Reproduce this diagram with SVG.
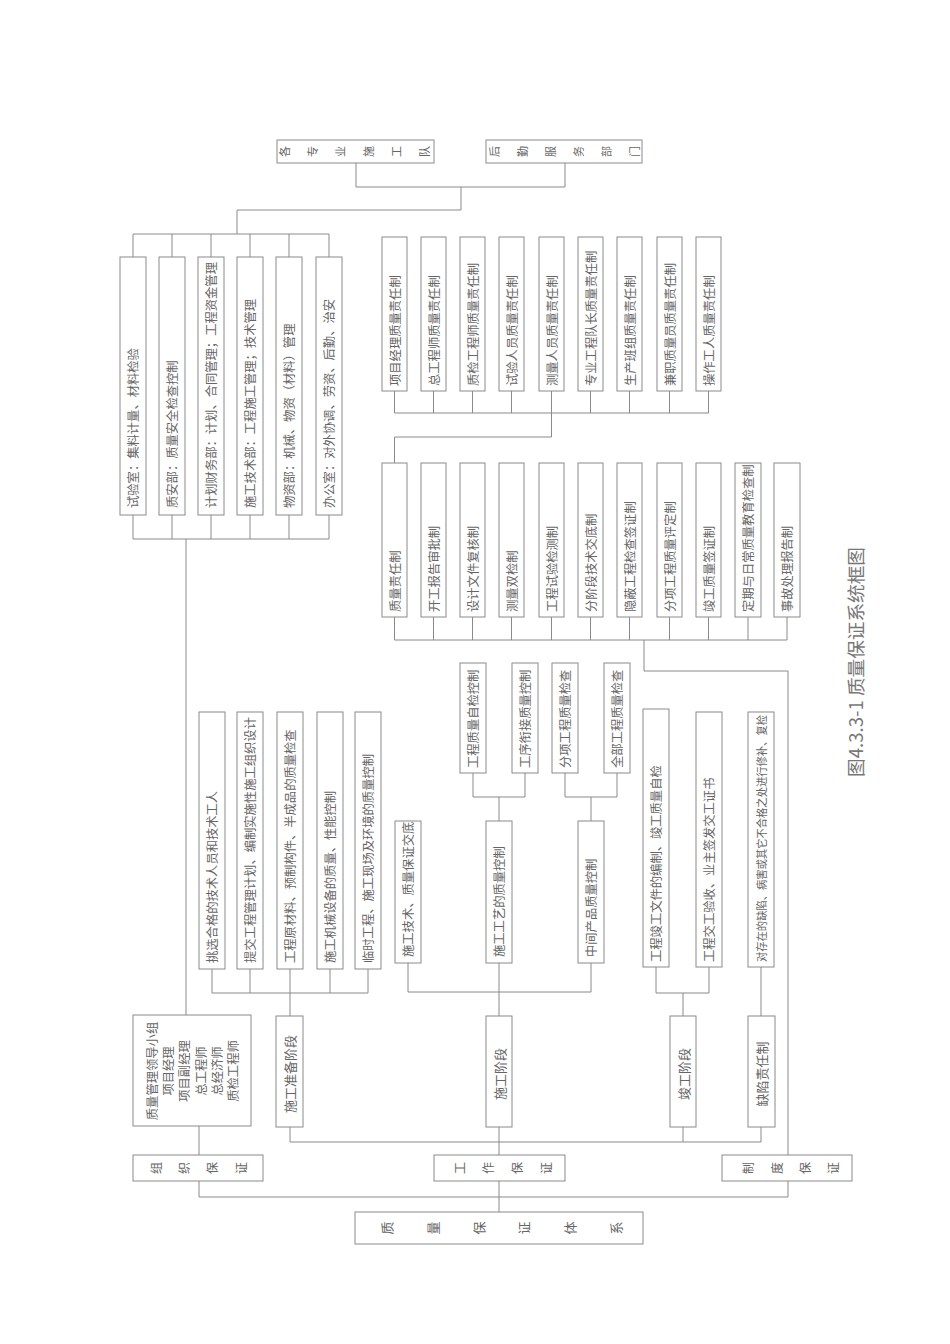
<svg xmlns="http://www.w3.org/2000/svg" width="950" height="1344" viewBox="0 0 950 1344">
<style>
rect.b{fill:#fff;stroke:#8a8a8a;stroke-width:1}
.c path{fill:none;stroke:#8a8a8a;stroke-width:1}
text{font-family:"Noto Sans CJK SC","Noto Sans",sans-serif;fill:#656565;dominant-baseline:central}
text.v{font-size:12.3px;text-anchor:start}
text.m{font-size:13px;text-anchor:middle}
text.s{font-size:11px;text-anchor:middle}
text.s2{font-size:12px;text-anchor:middle}
text.s3{font-size:13px;text-anchor:middle}
text.cap{font-size:18.5px;text-anchor:start;fill:#777}
</style>
<rect width="950" height="1344" fill="#fff"/>

<g class="c" id="connectors">
<path d="M356,163V187H565V163M461,187V210H237V234M133,234H329"/>
<path d="M133,234V257M172,234V257M211,234V257M250,234V257M289,234V257M329,234V257"/>
<path d="M133,515V539M172,515V539M211,515V539M250,515V539M289,515V539M329,515V539M133,539H329M186,539V1015"/>
<path d="M394.5,391V413M433.5,391V413M472.5,391V413M511.5,391V413M551.5,391V413M590.5,391V413M629.5,391V413M669.5,391V413M708.5,391V413M394.5,413H708.5M551.5,413V437H394.5V463"/>
<path d="M394.5,617V640M433.5,617V640M472.5,617V640M511.5,617V640M551.5,617V640M590.5,617V640M629.5,617V640M669.5,617V640M708.5,617V640M748,617V640M787,617V640M394.5,640H787M644,640V671H788V1155"/>
<path d="M212,969V993M250,969V993M290,969V993M330,969V993M368,969V993M212,993H368M290,993V1016"/>
<path d="M473,773V797H525V773M499,797V821M565,773V797H617V773M591,797V821"/>
<path d="M408,963V992M499,963V992M591,963V992M408,992H591M499,992V1016"/>
<path d="M656,967V993H709V967M683,993V1016M761,967V1016"/>
<path d="M290,1127V1142H761V1127M499,1127V1142M683,1127V1142M499,1142V1155"/>
<path d="M199,1126V1155M199,1181V1197H788V1181M499,1181V1212"/>
</g>

<g id="n-gezhuanye">
<rect class="b" x="277" y="140" width="157" height="23"/>
<text class="s" transform="translate(284,151.5) rotate(-90)">各</text>
<text class="s" transform="translate(312,151.5) rotate(-90)">专</text>
<text class="s" transform="translate(340,151.5) rotate(-90)">业</text>
<text class="s" transform="translate(368,151.5) rotate(-90)">施</text>
<text class="s" transform="translate(396,151.5) rotate(-90)">工</text>
<text class="s" transform="translate(424,151.5) rotate(-90)">队</text>
</g>
<g id="n-houqin">
<rect class="b" x="486" y="140" width="156" height="23"/>
<text class="s" transform="translate(494,151.5) rotate(-90)">后</text>
<text class="s" transform="translate(522,151.5) rotate(-90)">勤</text>
<text class="s" transform="translate(550,151.5) rotate(-90)">服</text>
<text class="s" transform="translate(578,151.5) rotate(-90)">务</text>
<text class="s" transform="translate(606,151.5) rotate(-90)">部</text>
<text class="s" transform="translate(634,151.5) rotate(-90)">门</text>
</g>

<g id="n-dept1"><rect class="b" x="120" y="257" width="26" height="258"/><text class="v" transform="translate(133,508) rotate(-90)">试验室：集料计量、材料检验</text></g>
<g id="n-dept2"><rect class="b" x="159" y="257" width="26" height="258"/><text class="v" transform="translate(172,508) rotate(-90)">质安部：质量安全检查控制</text></g>
<g id="n-dept3"><rect class="b" x="198" y="257" width="26" height="258"/><text class="v" transform="translate(211,508) rotate(-90)">计划财务部：计划、合同管理；工程资金管理</text></g>
<g id="n-dept4"><rect class="b" x="237" y="257" width="26" height="258"/><text class="v" transform="translate(250,508) rotate(-90)">施工技术部：工程施工管理；技术管理</text></g>
<g id="n-dept5"><rect class="b" x="276" y="257" width="26" height="258"/><text class="v" transform="translate(289,508) rotate(-90)">物资部：机械、物资（材料）管理</text></g>
<g id="n-dept6"><rect class="b" x="316" y="257" width="26" height="258"/><text class="v" transform="translate(329,508) rotate(-90)">办公室：对外协调、劳资、后勤、治安</text></g>

<g id="n-resp1"><rect class="b" x="382" y="237" width="25" height="154"/><text class="v" transform="translate(394.5,386) rotate(-90)">项目经理质量责任制</text></g>
<g id="n-resp2"><rect class="b" x="421" y="237" width="25" height="154"/><text class="v" transform="translate(433.5,386) rotate(-90)">总工程师质量责任制</text></g>
<g id="n-resp3"><rect class="b" x="460" y="237" width="25" height="154"/><text class="v" transform="translate(472.5,386) rotate(-90)">质检工程师质量责任制</text></g>
<g id="n-resp4"><rect class="b" x="499" y="237" width="25" height="154"/><text class="v" transform="translate(511.5,386) rotate(-90)">试验人员质量责任制</text></g>
<g id="n-resp5"><rect class="b" x="539" y="237" width="25" height="154"/><text class="v" transform="translate(551.5,386) rotate(-90)">测量人员质量责任制</text></g>
<g id="n-resp6"><rect class="b" x="578" y="237" width="25" height="154"/><text class="v" transform="translate(590.5,386) rotate(-90)">专业工程队长质量责任制</text></g>
<g id="n-resp7"><rect class="b" x="617" y="237" width="25" height="154"/><text class="v" transform="translate(629.5,386) rotate(-90)">生产班组质量责任制</text></g>
<g id="n-resp8"><rect class="b" x="657" y="237" width="25" height="154"/><text class="v" transform="translate(669.5,386) rotate(-90)">兼职质量员质量责任制</text></g>
<g id="n-resp9"><rect class="b" x="696" y="237" width="25" height="154"/><text class="v" transform="translate(708.5,386) rotate(-90)">操作工人质量责任制</text></g>

<g id="n-rule1"><rect class="b" x="382" y="463" width="25" height="154"/><text class="v" transform="translate(394.5,612) rotate(-90)">质量责任制</text></g>
<g id="n-rule2"><rect class="b" x="421" y="463" width="25" height="154"/><text class="v" transform="translate(433.5,612) rotate(-90)">开工报告审批制</text></g>
<g id="n-rule3"><rect class="b" x="460" y="463" width="25" height="154"/><text class="v" transform="translate(472.5,612) rotate(-90)">设计文件复核制</text></g>
<g id="n-rule4"><rect class="b" x="499" y="463" width="25" height="154"/><text class="v" transform="translate(511.5,612) rotate(-90)">测量双检制</text></g>
<g id="n-rule5"><rect class="b" x="539" y="463" width="25" height="154"/><text class="v" transform="translate(551.5,612) rotate(-90)">工程试验检测制</text></g>
<g id="n-rule6"><rect class="b" x="578" y="463" width="25" height="154"/><text class="v" transform="translate(590.5,612) rotate(-90)">分阶段技术交底制</text></g>
<g id="n-rule7"><rect class="b" x="617" y="463" width="25" height="154"/><text class="v" transform="translate(629.5,612) rotate(-90)">隐蔽工程检查签证制</text></g>
<g id="n-rule8"><rect class="b" x="657" y="463" width="25" height="154"/><text class="v" transform="translate(669.5,612) rotate(-90)">分项工程质量评定制</text></g>
<g id="n-rule9"><rect class="b" x="696" y="463" width="25" height="154"/><text class="v" transform="translate(708.5,612) rotate(-90)">竣工质量签证制</text></g>
<g id="n-rule10"><rect class="b" x="735" y="463" width="26" height="154"/><text class="v" transform="translate(748,612) rotate(-90)">定期与日常质量教育检查制</text></g>
<g id="n-rule11"><rect class="b" x="774" y="463" width="26" height="154"/><text class="v" transform="translate(787,612) rotate(-90)">事故处理报告制</text></g>

<g id="n-prep1"><rect class="b" x="199" y="712" width="26" height="257"/><text class="v" transform="translate(212,963) rotate(-90)">挑选合格的技术人员和技术工人</text></g>
<g id="n-prep2"><rect class="b" x="237" y="712" width="26" height="257"/><text class="v" transform="translate(250,963) rotate(-90)">提交工程管理计划、编制实施性施工组织设计</text></g>
<g id="n-prep3"><rect class="b" x="277" y="712" width="26" height="257"/><text class="v" transform="translate(290,963) rotate(-90)">工程原材料、预制构件、半成品的质量检查</text></g>
<g id="n-prep4"><rect class="b" x="317" y="712" width="26" height="257"/><text class="v" transform="translate(330,963) rotate(-90)">施工机械设备的质量、性能控制</text></g>
<g id="n-prep5"><rect class="b" x="355" y="712" width="26" height="257"/><text class="v" transform="translate(368,963) rotate(-90)">临时工程、施工现场及环境的质量控制</text></g>

<g id="n-jishu"><rect class="b" x="395" y="821" width="26" height="142"/><text class="v" transform="translate(408,957) rotate(-90)">施工技术、质量保证交底</text></g>
<g id="n-gongyi"><rect class="b" x="486" y="821" width="26" height="142"/><text class="v" transform="translate(499,957) rotate(-90)">施工工艺的质量控制</text></g>
<g id="n-zhongjian"><rect class="b" x="578" y="821" width="26" height="142"/><text class="v" transform="translate(591,957) rotate(-90)">中间产品质量控制</text></g>

<g id="n-zijian"><rect class="b" x="460" y="663" width="26" height="110"/><text class="v" transform="translate(473,768) rotate(-90)">工程质量自检控制</text></g>
<g id="n-xianjie"><rect class="b" x="512" y="663" width="26" height="110"/><text class="v" transform="translate(525,768) rotate(-90)">工序衔接质量控制</text></g>
<g id="n-fenxiang"><rect class="b" x="552" y="663" width="26" height="110"/><text class="v" transform="translate(565,768) rotate(-90)">分项工程质量检查</text></g>
<g id="n-quanbu"><rect class="b" x="604" y="663" width="26" height="110"/><text class="v" transform="translate(617,768) rotate(-90)">全部工程质量检查</text></g>

<g id="n-jungong1"><rect class="b" x="643" y="709" width="26" height="258"/><text class="v" transform="translate(656,962) rotate(-90)">工程竣工文件的编制、竣工质量自检</text></g>
<g id="n-jungong2"><rect class="b" x="696" y="712" width="26" height="255"/><text class="v" transform="translate(709,962) rotate(-90)">工程交工验收、业主签发交工证书</text></g>
<g id="n-quexian1"><rect class="b" x="748" y="712" width="26" height="255"/><text class="v" style="font-size:11px" textLength="247" lengthAdjust="spacingAndGlyphs" transform="translate(761,962) rotate(-90)">对存在的缺陷、病害或其它不合格之处进行修补、复检</text></g>

<g id="n-stage1"><rect class="b" x="276" y="1016" width="27" height="111"/><text class="m" transform="translate(289.5,1074) rotate(-90)">施工准备阶段</text></g>
<g id="n-stage2"><rect class="b" x="486" y="1016" width="26" height="111"/><text class="m" transform="translate(499,1074) rotate(-90)">施工阶段</text></g>
<g id="n-stage3"><rect class="b" x="670" y="1016" width="26" height="111"/><text class="m" transform="translate(683,1074) rotate(-90)">竣工阶段</text></g>
<g id="n-stage4"><rect class="b" x="748" y="1016" width="27" height="111"/><text class="m" transform="translate(761.5,1074) rotate(-90)">缺陷责任制</text></g>

<g id="n-lingdao">
<rect class="b" x="133" y="1015" width="118" height="111"/>
<text class="m" style="font-size:12.3px" transform="translate(152,1071) rotate(-90)">质量管理领导小组</text>
<text class="m" style="font-size:12.3px" transform="translate(168,1071) rotate(-90)">项目经理</text>
<text class="m" style="font-size:12.3px" transform="translate(184,1071) rotate(-90)">项目副经理</text>
<text class="m" style="font-size:12.3px" transform="translate(201,1071) rotate(-90)">总工程师</text>
<text class="m" style="font-size:12.3px" transform="translate(217,1071) rotate(-90)">总经济师</text>
<text class="m" style="font-size:12.3px" transform="translate(233,1071) rotate(-90)">质检工程师</text>
</g>

<g id="n-zuzhi">
<rect class="b" x="133" y="1155" width="130" height="26"/>
<text class="s2" transform="translate(155,1168) rotate(-90)">组</text>
<text class="s2" transform="translate(183,1168) rotate(-90)">织</text>
<text class="s2" transform="translate(211,1168) rotate(-90)">保</text>
<text class="s2" transform="translate(240,1168) rotate(-90)">证</text>
</g>
<g id="n-gongzuo">
<rect class="b" x="434" y="1155" width="131" height="26"/>
<text class="s2" transform="translate(459,1168) rotate(-90)">工</text>
<text class="s2" transform="translate(487,1168) rotate(-90)">作</text>
<text class="s2" transform="translate(516,1168) rotate(-90)">保</text>
<text class="s2" transform="translate(545,1168) rotate(-90)">证</text>
</g>
<g id="n-zhidu">
<rect class="b" x="722" y="1155" width="130" height="26"/>
<text class="s2" transform="translate(747,1168) rotate(-90)">制</text>
<text class="s2" transform="translate(776,1168) rotate(-90)">度</text>
<text class="s2" transform="translate(804,1168) rotate(-90)">保</text>
<text class="s2" transform="translate(832,1168) rotate(-90)">证</text>
</g>
<g id="n-tixi">
<rect class="b" x="355" y="1212" width="288" height="32"/>
<text class="s3" transform="translate(386,1228) rotate(-90)">质</text>
<text class="s3" transform="translate(432,1228) rotate(-90)">量</text>
<text class="s3" transform="translate(478,1228) rotate(-90)">保</text>
<text class="s3" transform="translate(523,1228) rotate(-90)">证</text>
<text class="s3" transform="translate(569,1228) rotate(-90)">体</text>
<text class="s3" transform="translate(615,1228) rotate(-90)">系</text>
</g>

<g id="caption">
<text class="cap" textLength="230" lengthAdjust="spacingAndGlyphs" transform="translate(855,777) rotate(-90)">图4.3.3-1 质量保证系统框图</text>
</g>
</svg>
